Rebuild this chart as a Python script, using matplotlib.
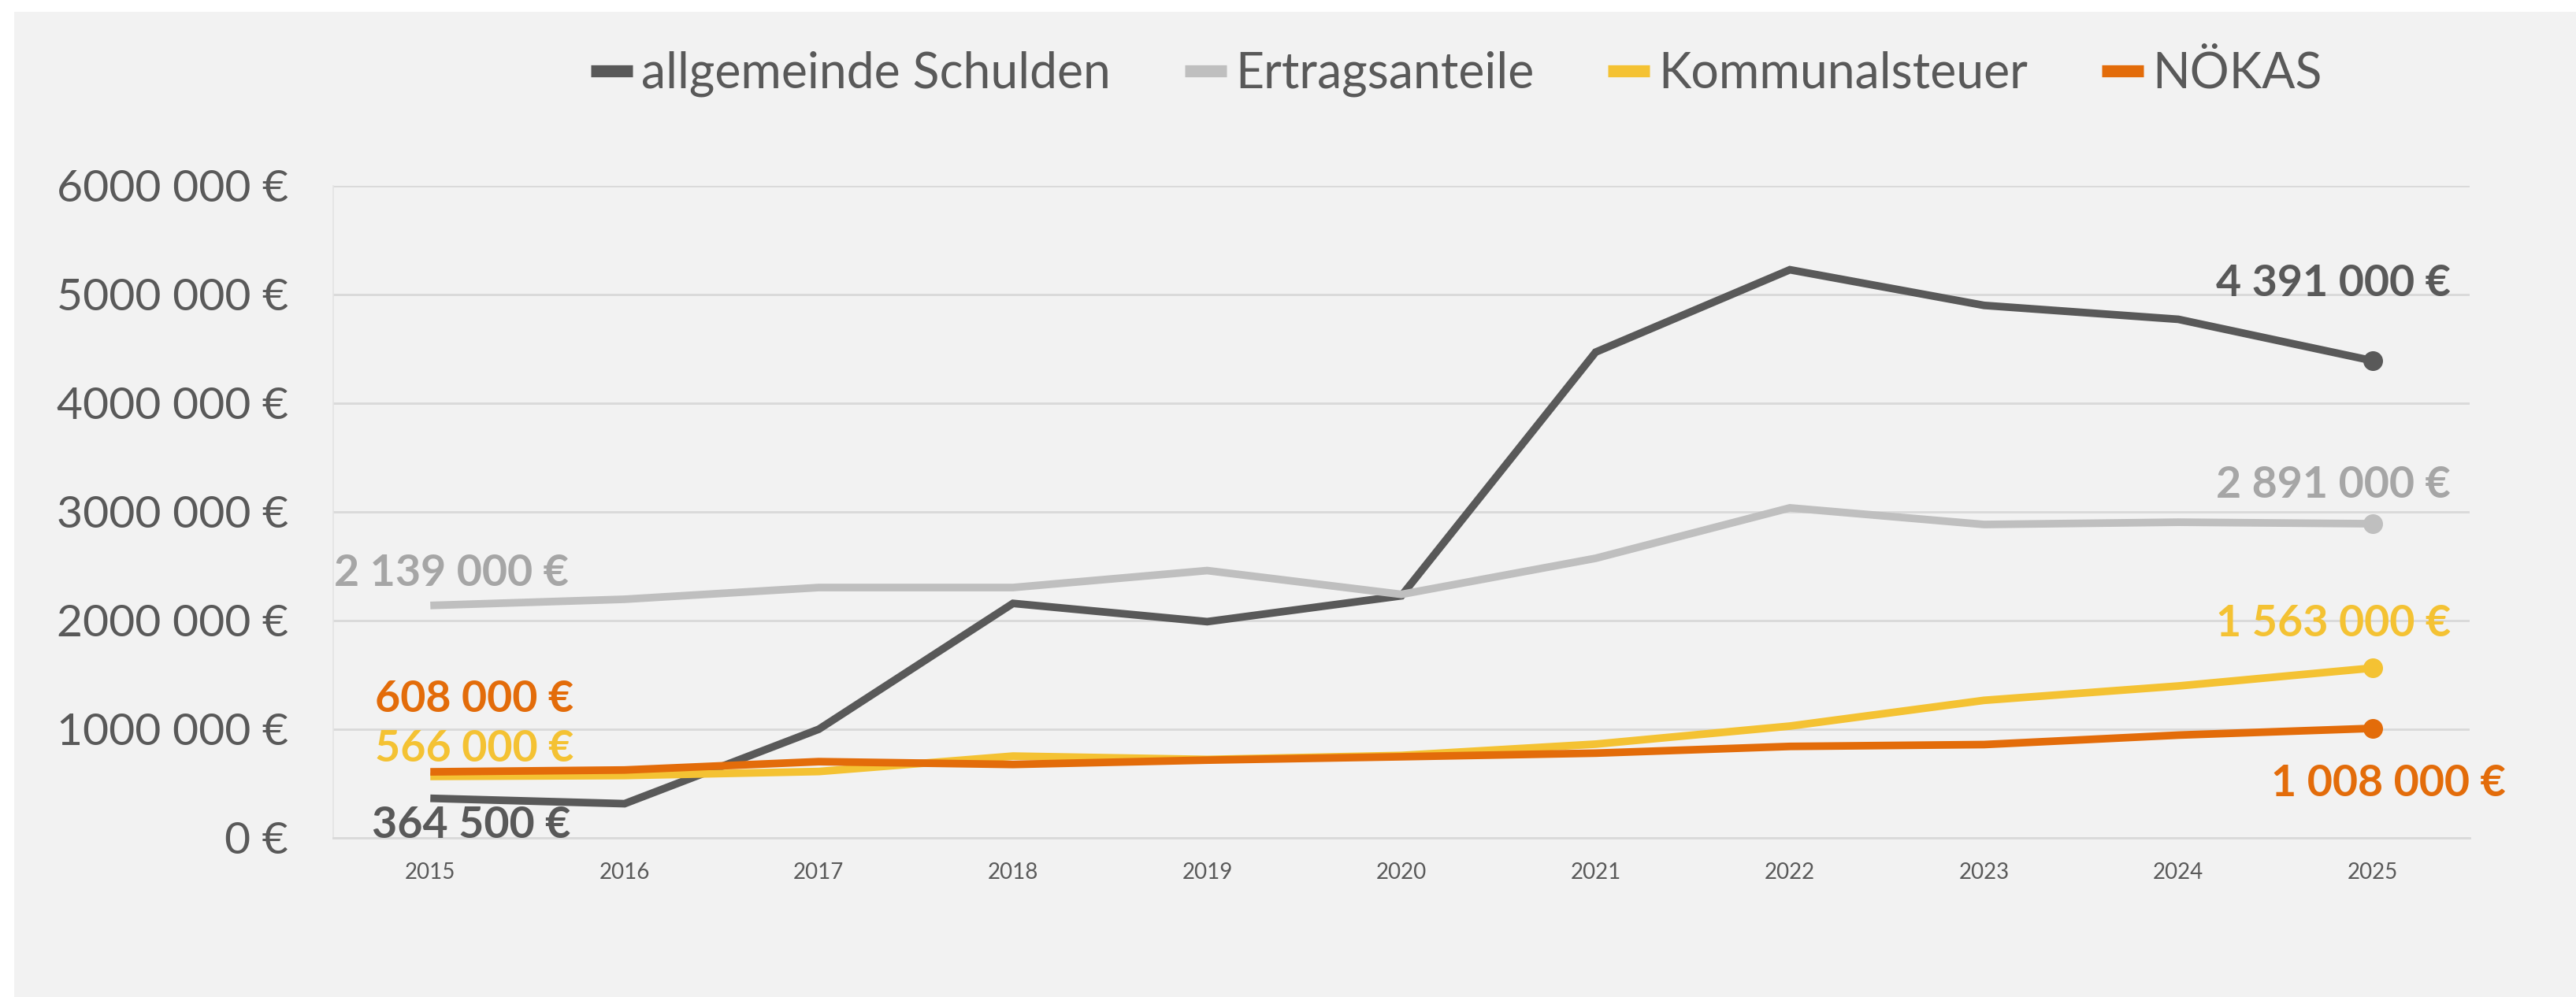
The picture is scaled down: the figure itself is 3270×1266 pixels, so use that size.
import matplotlib
matplotlib.use("Agg")
import matplotlib.pyplot as plt
from matplotlib.patches import Rectangle
from matplotlib.lines import Line2D

plt.rcParams['font.family'] = ['Lato', 'DejaVu Sans']

years = ["2015", "2016", "2017", "2018", "2019", "2020", "2021", "2022", "2023", "2024", "2025"]
schulden = [364500, 315000, 1000000, 2158000, 1990000, 2228000, 4470000, 5228000, 4900000, 4772000, 4391000]
ertrag = [2139000, 2196000, 2304000, 2304000, 2460000, 2241000, 2573000, 3037000, 2884000, 2905000, 2891000]
kommunal = [566000, 574000, 611000, 753000, 722000, 759000, 863000, 1029000, 1266000, 1398000, 1563000]
noekas = [608000, 625000, 702000, 676000, 716000, 747000, 780000, 842000, 859000, 946000, 1008000]

series_names = ["allgemeinde Schulden", "Ertragsanteile", "Kommunalsteuer", "NÖKAS"]
line_colors = ["#595959", "#BFBFBF", "#F4C233", "#E36C0A"]
label_colors = ["#595959", "#A6A6A6", "#F4C233", "#E36C0A"]
first_labels = ["364 500 €", "2 139 000 €", "566 000 €", "608 000 €"]
last_labels = ["4 391 000 €", "2 891 000 €", "1 563 000 €", "1 008 000 €"]
yticks = [0, 1000000, 2000000, 3000000, 4000000, 5000000, 6000000]
ytick_labels = ["0 €", "1000 000 €", "2000 000 €", "3000 000 €", "4000 000 €", "5000 000 €", "6000 000 €"]

W, H = 3270, 1266
fig = plt.figure(figsize=(W / 100, H / 100), dpi=100)
fig.patch.set_facecolor("white")
fig.patches.append(Rectangle((18 / W, 0), 1, 1 - 15 / H, transform=fig.transFigure,
                             facecolor="#F2F2F2", edgecolor="none", zorder=-10))

ax = fig.add_axes([423 / W, 1 - 1064 / H, (3135 - 423) / W, (1064 - 236) / H])
ax.set_facecolor("#F2F2F2")

x = list(range(len(years)))
all_series = [schulden, ertrag, kommunal, noekas]
zorders = [3, 3, 4, 5]
for s, c, z in zip(all_series, line_colors, zorders):
    ax.plot(x, s, color=c, lw=7, solid_capstyle="butt", solid_joinstyle="miter", zorder=z)
    ax.plot([x[-1]], [s[-1]], marker="o", ms=17, color=c, mec=c, zorder=z + 1)

ax.set_xlim(-0.5, len(years) - 0.5)
ax.set_ylim(0, 6000000)
ax.set_xticks(x)
ax.set_xticklabels(years)
ax.set_yticks(yticks)
ax.set_yticklabels(ytick_labels)
ax.tick_params(axis="y", length=0, pad=41, labelsize=41, labelcolor="#595959")
ax.tick_params(axis="x", length=0, pad=22, labelsize=20, labelcolor="#595959")
ax.grid(axis="y", color="#D9D9D9", lw=2)
ax.set_axisbelow(True)
for sp in ["top", "right"]:
    ax.spines[sp].set_visible(False)
ax.spines["bottom"].set_color("#D9D9D9")
ax.spines["bottom"].set_linewidth(2)
ax.spines["left"].set_color("#E3E3E3")
ax.spines["left"].set_linewidth(1.2)

first_offsets = [(52, -34), (27, 41), (56, 35), (56, 92)]
last_offsets = [(-50, 98), (-50, 49), (-50, 56), (20, -70)]
for i, s in enumerate(all_series):
    ax.annotate(first_labels[i], (x[0], s[0]), xytext=first_offsets[i], textcoords="offset pixels",
                ha="center", va="center", fontsize=40, fontweight="bold", color=label_colors[i], zorder=10)
    ax.annotate(last_labels[i], (x[-1], s[-1]), xytext=last_offsets[i], textcoords="offset pixels",
                ha="center", va="center", fontsize=40, fontweight="bold", color=label_colors[i], zorder=10)

handles = [Line2D([0], [0], color=c, lw=11, solid_capstyle="butt") for c in line_colors]
leg = fig.legend(handles, series_names, loc="center", bbox_to_anchor=(1849 / W, 1 - 94 / H),
                 ncol=4, frameon=False, fontsize=45, handlelength=0.85, handletextpad=0.18,
                 columnspacing=1.5, labelcolor="#595959")

fig.savefig("out.png", dpi=100, facecolor=fig.get_facecolor())
